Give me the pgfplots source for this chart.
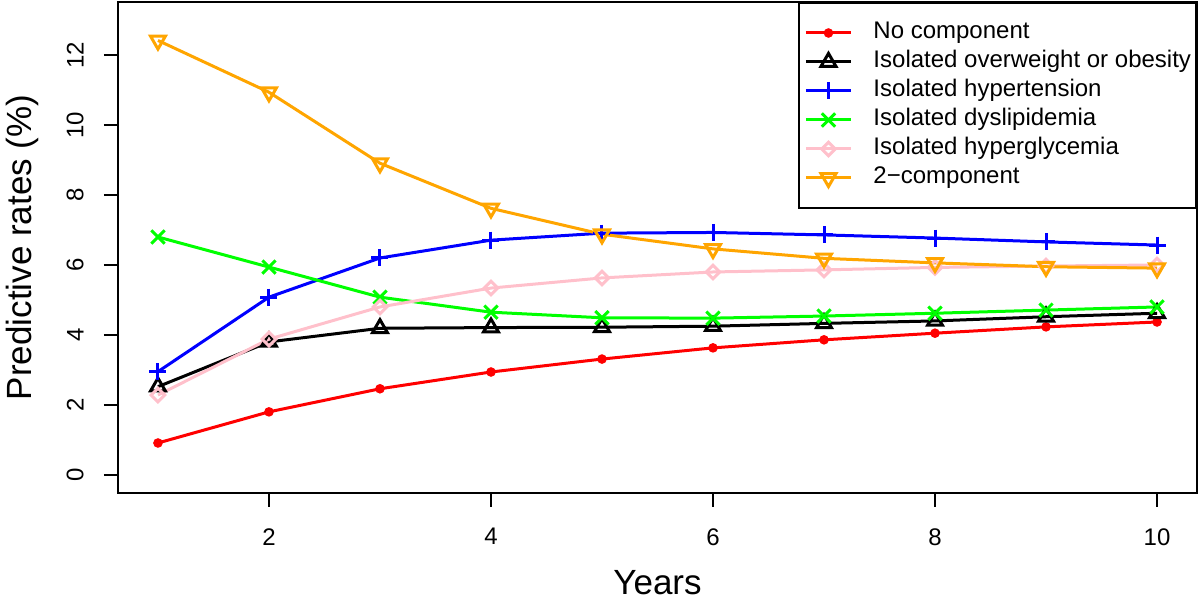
\documentclass[border=0pt]{standalone}
\usepackage{fontspec}
\setmainfont{Liberation Sans}
\usepackage{pgfplots}
\usepackage{pgfplotstable}
\pgfplotsset{compat=1.18}

\definecolor{rpink}{RGB}{255,192,203}
\definecolor{rorange}{RGB}{255,165,0}
\definecolor{rgreen}{RGB}{0,255,0}

% predictive rates (%) by year
\pgfplotstableread{
year none overw htn dysl hygl two
1  0.91 2.52 2.95 6.80 2.28 12.42
2  1.80 3.80 5.08 5.94 3.88 10.94
3  2.46 4.19 6.20 5.08 4.80 8.91
4  2.94 4.21 6.71 4.65 5.34 7.62
5  3.31 4.22 6.91 4.49 5.63 6.88
6  3.63 4.25 6.93 4.48 5.80 6.46
7  3.86 4.33 6.86 4.54 5.86 6.19
8  4.05 4.40 6.77 4.62 5.93 6.06
9  4.23 4.52 6.66 4.71 5.97 5.95
10 4.37 4.62 6.57 4.80 6.00 5.91
}\rates

\begin{document}
\begin{tikzpicture}
  \path[use as bounding box] (-59pt,-55.5pt) rectangle (541pt,246.5pt);
  \begin{axis}[
      scale only axis,
      width=539.5pt,
      height=245.5pt,
      xmin=0.64, xmax=10.36,
      ymin=-0.52, ymax=13.52,
      xtick={2,4,6,8,10},
      ytick={0,2,4,6,8,10,12},
      xtick pos=bottom,
      ytick pos=left,
      tick align=outside,
      major tick length=7pt,
      every tick/.style={black, line width=1pt},
      axis line style={line width=1pt},
      /pgf/number format/assume math mode=true,
      tick label style={font=\fontsize{12}{14}\selectfont},
      xticklabel style={anchor=north, inner sep=0pt},
      yticklabel style={rotate=90, anchor=south, inner sep=0pt},
      xticklabel shift=10.5pt,
      yticklabel shift=10pt,
      xlabel={Years},
      ylabel={Predictive rates (\%)},
      label style={font=\fontsize{17.5}{20}\selectfont},
      xlabel style={at={(axis description cs:0.5,-0.207)}, anchor=base},
      ylabel style={at={(axis description cs:-0.089,0.5)}, anchor=center},
      legend cell align=left,
      legend style={at={(1,1)}, anchor=north east, draw=black, line width=1pt,
        inner xsep=2.5pt, inner ysep=9pt, row sep=2.5pt,
        font=\fontsize{12}{14}\selectfont,
        nodes={inner sep=0pt, text height=9pt, text depth=3pt},
        /tikz/every odd column/.append style={column sep=10.5pt}},
      legend image code/.code={
        \draw[mark repeat=2, mark phase=2, #1]
          plot coordinates {(0pt,0pt) (11.25pt,0pt) (22.5pt,0pt)};},
      every axis plot/.append style={line width=1.5pt},
  ]
    \addplot[red, mark=*, mark size=1.6pt] table[x=year, y=none] {\rates};
    \addlegendentry{No component}
    \addplot[black, mark=triangle, mark size=4.3pt] table[x=year, y=overw] {\rates};
    \addlegendentry{Isolated overweight or obesity}
    \addplot[blue, mark=+, mark size=4.25pt] table[x=year, y=htn] {\rates};
    \addlegendentry{Isolated hypertension}
    \addplot[rgreen, mark=x, mark size=4.7pt] table[x=year, y=dysl] {\rates};
    \addlegendentry{Isolated dyslipidemia}
    \addplot[rpink, mark=square, mark size=2.4pt, mark options={rotate=45}] table[x=year, y=hygl] {\rates};
    \addlegendentry{Isolated hyperglycemia}
    \addplot[rorange, mark=triangle, mark size=4.3pt, mark options={rotate=180}] table[x=year, y=two] {\rates};
    \addlegendentry{2{\char"2212}component}
  \end{axis}
\end{tikzpicture}
\end{document}
